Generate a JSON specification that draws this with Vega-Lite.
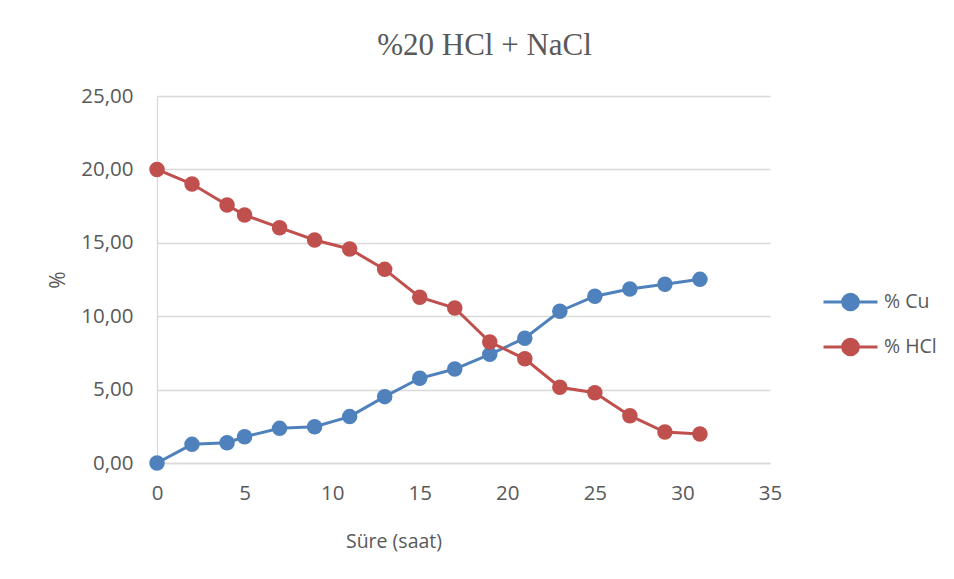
{
  "$schema": "https://vega.github.io/schema/vega-lite/v6.json",
  "width": 613,
  "height": 367,
  "autosize": {"type": "none"},
  "padding": {"left": 157, "top": 96, "right": 184, "bottom": 116},
  "background": "white",
  "title": {
    "text": "%20 HCl + NaCl",
    "font": "Liberation Serif",
    "fontSize": 31,
    "fontWeight": "normal",
    "color": "#595959",
    "anchor": "middle",
    "frame": "group",
    "dx": 21,
    "offset": 24
  },
  "data": {
    "values": [
      {"t": 0, "series": "% Cu", "value": 0.0},
      {"t": 2, "series": "% Cu", "value": 1.27},
      {"t": 4, "series": "% Cu", "value": 1.38},
      {"t": 5, "series": "% Cu", "value": 1.79},
      {"t": 7, "series": "% Cu", "value": 2.36},
      {"t": 9, "series": "% Cu", "value": 2.47},
      {"t": 11, "series": "% Cu", "value": 3.16},
      {"t": 13, "series": "% Cu", "value": 4.52},
      {"t": 15, "series": "% Cu", "value": 5.77},
      {"t": 17, "series": "% Cu", "value": 6.4},
      {"t": 19, "series": "% Cu", "value": 7.4},
      {"t": 21, "series": "% Cu", "value": 8.5},
      {"t": 23, "series": "% Cu", "value": 10.34},
      {"t": 25, "series": "% Cu", "value": 11.36},
      {"t": 27, "series": "% Cu", "value": 11.85},
      {"t": 29, "series": "% Cu", "value": 12.17},
      {"t": 31, "series": "% Cu", "value": 12.51},
      {"t": 0, "series": "% HCl", "value": 20.0},
      {"t": 2, "series": "% HCl", "value": 19.0},
      {"t": 4, "series": "% HCl", "value": 17.57},
      {"t": 5, "series": "% HCl", "value": 16.89},
      {"t": 7, "series": "% HCl", "value": 16.03},
      {"t": 9, "series": "% HCl", "value": 15.19},
      {"t": 11, "series": "% HCl", "value": 14.58},
      {"t": 13, "series": "% HCl", "value": 13.19},
      {"t": 15, "series": "% HCl", "value": 11.29},
      {"t": 17, "series": "% HCl", "value": 10.56},
      {"t": 19, "series": "% HCl", "value": 8.24},
      {"t": 21, "series": "% HCl", "value": 7.1},
      {"t": 23, "series": "% HCl", "value": 5.16},
      {"t": 25, "series": "% HCl", "value": 4.79},
      {"t": 27, "series": "% HCl", "value": 3.22},
      {"t": 29, "series": "% HCl", "value": 2.11},
      {"t": 31, "series": "% HCl", "value": 1.98}
    ]
  },
  "encoding": {
    "x": {
      "field": "t",
      "type": "quantitative",
      "scale": {"domain": [0, 35], "nice": false, "zero": true},
      "axis": {
        "title": "Süre (saat)",
        "values": [0, 5, 10, 15, 20, 25, 30, 35],
        "grid": false,
        "ticks": false,
        "tickSize": 0,
        "domain": true,
        "domainColor": "#D9D9D9",
        "domainWidth": 1.3,
        "labelPadding": 20,
        "labelFont": "Open Sans",
        "labelFontSize": 20.5,
        "labelColor": "#595959",
        "labelFlush": false,
        "labelOverlap": false,
        "titleFont": "Open Sans",
        "titleFontSize": 19.5,
        "titleFontWeight": "normal",
        "titleColor": "#595959",
        "titleX": 236.5,
        "titleY": 84,
        "titleBaseline": "alphabetic",
        "titleAnchor": "middle"
      }
    },
    "y": {
      "field": "value",
      "type": "quantitative",
      "scale": {"domain": [0, 25], "nice": false},
      "axis": {
        "title": "%",
        "values": [0, 5, 10, 15, 20, 25],
        "labelExpr": "replace(format(datum.value, '.2f'), '.', ',')",
        "grid": true,
        "gridColor": "#D9D9D9",
        "gridWidth": 1.3,
        "ticks": false,
        "tickSize": 0,
        "domain": true,
        "domainColor": "#D9D9D9",
        "domainWidth": 1.3,
        "labelPadding": 24,
        "labelFont": "Open Sans",
        "labelFontSize": 20.5,
        "labelColor": "#595959",
        "labelFlush": false,
        "labelOverlap": false,
        "titleFont": "Open Sans",
        "titleFontSize": 21,
        "titleFontWeight": "normal",
        "titleColor": "#595959",
        "titlePadding": 12
      }
    },
    "color": {
      "field": "series",
      "type": "nominal",
      "scale": {"domain": ["% Cu", "% HCl"], "range": ["#4F81BD", "#C0504D"]},
      "legend": {
        "title": null,
        "orient": "none",
        "legendX": 665,
        "legendY": 196,
        "padding": 0,
        "symbolType": "M-1,0L1,0M0.29,0A0.29,0.29 0 1 1 -0.29,0A0.29,0.29 0 1 1 0.29,0Z",
        "symbolSize": 2916,
        "symbolStrokeWidth": 3,
        "clipHeight": 20,
        "rowPadding": 25,
        "labelOffset": 5,
        "labelFont": "Open Sans",
        "labelFontSize": 19.5,
        "labelColor": "#595959",
        "encode": {
          "symbols": {
            "update": {
              "fill": {"scale": "color", "field": "value"},
              "stroke": {"scale": "color", "field": "value"},
              "strokeWidth": {"value": 3},
              "opacity": {"value": 1}
            }
          }
        }
      }
    }
  },
  "layer": [
    {"mark": {"type": "line", "strokeWidth": 3}},
    {"mark": {"type": "point", "filled": true, "size": 240, "opacity": 1}}
  ],
  "config": {
    "view": {"stroke": null}
  }
}
